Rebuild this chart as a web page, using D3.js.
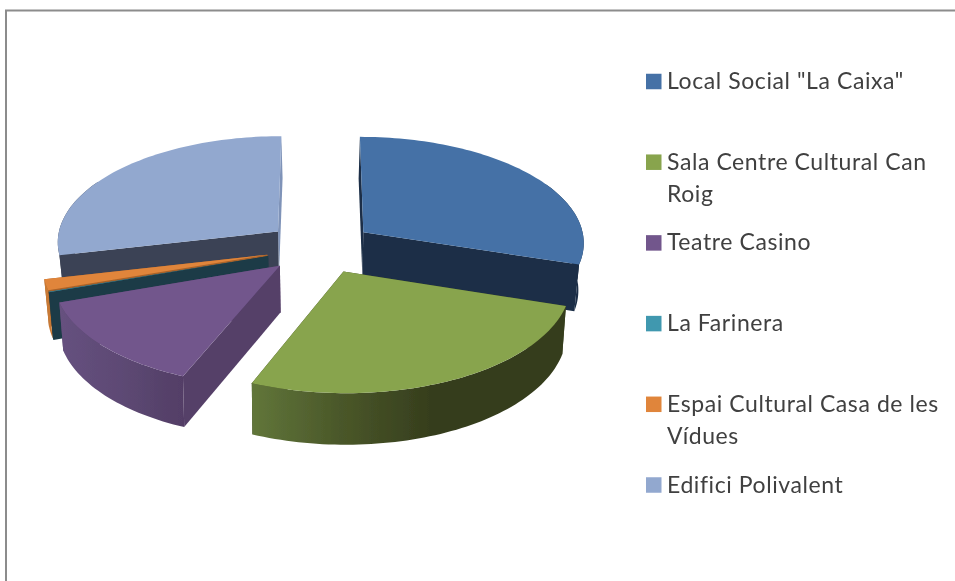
<!DOCTYPE html>
<html>
<head>
<meta charset="utf-8">
<script src="https://cdn.jsdelivr.net/npm/d3@7"></script>
<style>
  html, body { margin: 0; padding: 0; background: #fff; overflow: hidden; }
  svg { display: block; }
  text { font-family: Lato, "Open Sans", sans-serif; font-size: 23px; letter-spacing: 0.58px; fill: #404040; }
</style>
</head>
<body>
<div id="Chart"></div>
<script>
const categories = ["Local Social \"La Caixa\"", "Sala Centre Cultural Can Roig", "Teatre Casino",
  "La Farinera", "Espai Cultural Casa de les Vídues", "Edifici Polivalent"];
const legendLines = [["Local Social \"La Caixa\""], ["Sala Centre Cultural Can", "Roig"], ["Teatre Casino"],
  ["La Farinera"], ["Espai Cultural Casa de les", "Vídues"], ["Edifici Polivalent"]];
const shares = [29.9, 26.3, 13.5, 0.1, 1.6, 28.6];

const topColors = ["#4471a6", "#88a44e", "#72578c", "#4198af", "#e0853a", "#92a8cf"];
const startColors = ["#1b2e47", "#38401d", "#553f68", "#1b3b47", "#a8622a", "#3b4355"];
const endColors = ["#1b2e47", "#38401d", "#553f68", "#1b3b47", "#a8622a", "#7f93b8"];
const rimColors = [
  ["#1b2e47", "#1b2e47", "#1b2e47"],
  ["#61763a", "#4a5729", "#363e1d"],
  ["#66517f", "#5d4974", "#533e66"],
  ["#1b3b47", "#1b3b47", "#1b3b47"],
  ["#c97a34", "#c97a34", "#c97a34"],
  ["#3b4355", "#3b4355", "#3b4355"]
];
// back slices first, so the front ones paint over them
const paintOrder = [5, 0, 4, 3, 2, 1];

const dim = {width: 955, height: 581, cx: 320, cy: 247.5, rx: 222, ry: 106.4, tilt: 0.088, depth: 46, shrink: 0.98, shrinkV: 0.01, explode: 0.245};
const legend = {x: 646, box: 15.5, textX: 667, top: 81.5, step: 80.7, lineH: 32};

function project(u, v, bottom) {
  const w = 1 - dim.tilt * v;
  const s = bottom ? dim.shrink + dim.shrinkV * v : 1;
  const x = dim.cx + dim.rx * u / w * s;
  const y = dim.cy + dim.ry * v / w + (bottom ? dim.depth / w : 0);
  return [x, y];
}

function slicePoint(slice, angle, r, bottom) {
  const mid = (slice.startAngle + slice.endAngle) / 2;
  const u = dim.explode * Math.sin(mid) + r * Math.sin(angle);
  const v = -dim.explode * Math.cos(mid) - r * Math.cos(angle);
  return project(u, v, bottom);
}

function arcAngles(slice) {
  const n = Math.max(2, Math.ceil((slice.endAngle - slice.startAngle) * 40));
  return d3.range(n + 1).map(i => slice.startAngle + (slice.endAngle - slice.startAngle) * i / n);
}

function drawChart() {
  const polygon = d3.line().curve(d3.curveLinearClosed);
  const slices = d3.pie().sort(null).value(d => d)(shares);

  const svg = d3.select("#Chart").append("svg")
    .attr("width", dim.width)
    .attr("height", dim.height);

  const defs = svg.append("defs");
  defs.append("filter").attr("id", "soft")
    .attr("x", "-5%").attr("y", "-5%").attr("width", "110%").attr("height", "110%")
    .append("feGaussianBlur").attr("stdDeviation", 0.45);

  const root = svg.append("g").attr("filter", "url(#soft)");

  root.append("rect")
    .attr("x", 6).attr("y", 10.5)
    .attr("width", dim.width + 50).attr("height", dim.height + 50)
    .attr("fill", "#fff")
    .attr("stroke", "#8c8c8c")
    .attr("stroke-width", 2);

  const pie = root.append("g").attr("class", "pie");

  for (const i of paintOrder) {
    const slice = slices[i];
    const angles = arcAngles(slice);
    const topRim = angles.map(a => slicePoint(slice, a, 1, false));
    // the far part of the rim is behind the top face anyway
    const nearAngles = angles.filter(a => Math.cos(a) < 0.5);
    const rimTop = nearAngles.map(a => slicePoint(slice, a, 1, false));
    const rimLow = nearAngles.map(a => slicePoint(slice, a, 1, true)).reverse();
    const xs = rimTop.map(p => p[0]);

    const grad = defs.append("linearGradient")
      .attr("id", "rim" + i)
      .attr("gradientUnits", "userSpaceOnUse")
      .attr("x1", d3.min(xs)).attr("x2", i === 1 ? 430 : d3.max(xs))
      .attr("y1", 0).attr("y2", 0);
    rimColors[i].forEach((c, k) => grad.append("stop").attr("offset", k / 2).attr("stop-color", c));

    const g = pie.append("g").attr("class", "slice");
    const cuts = [[slice.endAngle, endColors[i]], [slice.startAngle, startColors[i]]];
    for (const [a, color] of cuts) {
      g.append("path")
        .attr("fill", color)
        .attr("d", polygon([
          slicePoint(slice, a, 0, false),
          slicePoint(slice, a, 1, false),
          slicePoint(slice, a, 1, true),
          slicePoint(slice, a, 0, true)
        ]));
    }
    g.append("path")
      .attr("fill", `url(#rim${i})`)
      .attr("d", polygon(rimTop.concat(rimLow)));
    g.append("path")
      .attr("fill", topColors[i])
      .attr("d", polygon([slicePoint(slice, 0, 0, false)].concat(topRim)));
  }

  const items = root.append("g").attr("class", "legend")
    .selectAll("g").data(categories).join("g")
      .attr("transform", (d, i) => `translate(0 ${legend.top + i * legend.step})`);
  items.append("rect")
    .attr("x", legend.x)
    .attr("y", -legend.box / 2)
    .attr("width", legend.box)
    .attr("height", legend.box)
    .attr("fill", (d, i) => topColors[i]);
  items.append("text")
    .selectAll("tspan").data((d, i) => legendLines[i]).join("tspan")
      .attr("x", legend.textX)
      .attr("y", (d, i) => 7.5 + i * legend.lineH)
      .text(d => d);
}

drawChart();
</script>
</body>
</html>
